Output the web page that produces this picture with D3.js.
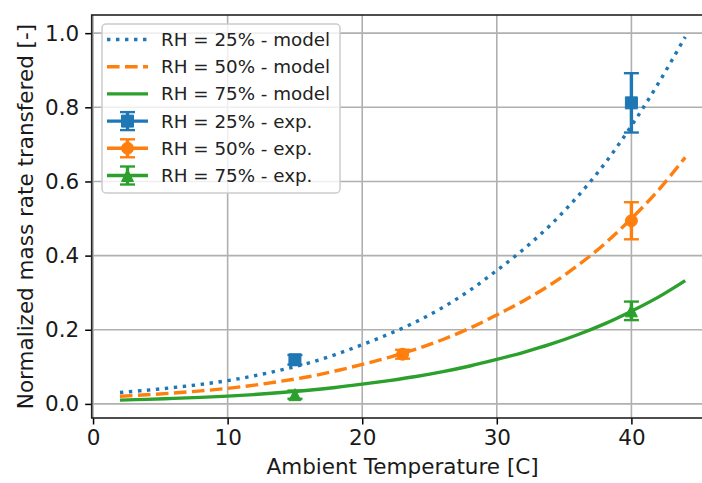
<!DOCTYPE html>
<html>
<head>
<meta charset="utf-8">
<script src="https://cdn.jsdelivr.net/npm/d3@7"></script>
<style>
  body { margin: 0; background: #fff; }
  svg { display: block; font-family: "DejaVu Sans", sans-serif; }
</style>
</head>
<body>
<div id="chart"></div>
<script>
// model curves, every 2 degrees
var temps = [2, 4, 6, 8, 10, 12, 14, 16, 18, 20, 22, 24, 26, 28, 30, 32, 34, 36, 38, 40, 42, 44];
var model25 = [0.0309, 0.0370, 0.0443, 0.0527, 0.0628, 0.0760, 0.0919, 0.1100, 0.1330, 0.1598, 0.1887, 0.2214, 0.2606, 0.3065, 0.3600, 0.4175, 0.4830, 0.5595, 0.6473, 0.7500, 0.8645, 0.9900];
var model50 = [0.0206, 0.0247, 0.0295, 0.0352, 0.0419, 0.0507, 0.0613, 0.0733, 0.0887, 0.1066, 0.1258, 0.1476, 0.1738, 0.2043, 0.2400, 0.2783, 0.3220, 0.3730, 0.4315, 0.5000, 0.5763, 0.6650];
var model75 = [0.0103, 0.0123, 0.0148, 0.0176, 0.0209, 0.0253, 0.0306, 0.0367, 0.0443, 0.0533, 0.0629, 0.0738, 0.0869, 0.1022, 0.1200, 0.1392, 0.1610, 0.1865, 0.2158, 0.2500, 0.2880, 0.3325];

// experiments (value +/- error)
var expT25 = [15, 40], exp25 = [0.119, 0.812], err25 = [0.013, 0.080];
var expT50 = [23, 40], exp50 = [0.134, 0.494], err50 = [0.012, 0.050];
var expT75 = [15, 40], exp75 = [0.025, 0.251], err75 = [0.011, 0.025];

var xTicks = [0, 10, 20, 30, 40];
var yTicks = [0, 0.2, 0.4, 0.6, 0.8, 1.0];

var blue = "#1f77b4", orange = "#ff7f0e", green = "#2ca02c";

var svgWidth = 702, svgHeight = 483;
// plot frame (right edge falls outside the picture, as in the original)
var plotLeft = 91.7, plotRight = 713.5, plotTop = 15, plotBottom = 418;
var lw = 3.4;

var svg = d3.select("#chart").append("svg")
    .attr("width", svgWidth)
    .attr("height", svgHeight);

var x = d3.scaleLinear().domain([-0.1, 46.1]).range([plotLeft, plotRight]);
var y = d3.scaleLinear().domain([-0.038, 1.049]).range([plotBottom, plotTop]);

// grid
svg.append("g").selectAll("line").data(xTicks).enter().append("line")
    .attr("x1", d => x(d)).attr("x2", d => x(d))
    .attr("y1", plotTop).attr("y2", plotBottom)
    .attr("stroke", "#b0b0b0").attr("stroke-width", 1.6);
svg.append("g").selectAll("line").data(yTicks).enter().append("line")
    .attr("x1", plotLeft).attr("x2", plotRight)
    .attr("y1", d => y(d)).attr("y2", d => y(d))
    .attr("stroke", "#b0b0b0").attr("stroke-width", 1.6);

// axes
var xAxis = svg.append("g")
    .attr("transform", `translate(0, ${plotBottom})`)
    .call(d3.axisBottom(x).tickValues(xTicks).tickSize(6.5).tickPadding(5).tickFormat(d3.format("d")));
var yAxis = svg.append("g")
    .attr("transform", `translate(${plotLeft}, 0)`)
    .call(d3.axisLeft(y).tickValues(yTicks).tickSize(6.5).tickPadding(6).tickFormat(d3.format(".1f")));
[xAxis, yAxis].forEach(function(g) {
    g.select(".domain").remove();
    g.selectAll(".tick line").attr("stroke", "#000").attr("stroke-width", 1.5);
    g.selectAll(".tick text").attr("fill", "#1a1a1a").style("font-size", "21.5px")
        .style("font-family", "DejaVu Sans");
});

// frame
svg.append("rect")
    .attr("x", plotLeft).attr("y", plotTop)
    .attr("width", plotRight - plotLeft).attr("height", plotBottom - plotTop)
    .attr("fill", "none").attr("stroke", "#222").attr("stroke-width", 1.6);

// model lines
var models = [
    { vals: model25, color: blue, dash: [lw, lw * 1.65] },
    { vals: model50, color: orange, dash: [lw * 3.7, lw * 1.6] },
    { vals: model75, color: green, dash: null }
];
var line = d3.line().curve(d3.curveCatmullRom);
models.forEach(function(m) {
    svg.append("path")
        .attr("d", line(temps.map((t, i) => [x(t), y(m.vals[i])])))
        .attr("fill", "none")
        .attr("stroke", m.color)
        .attr("stroke-width", lw)
        .attr("stroke-dasharray", m.dash ? m.dash.join(",") : null);
});

// marker paths
function markerPath(shape, s) {
    var h = s / 2;
    if (shape === "s") return `M${-h},${-h}H${h}V${h}H${-h}Z`;
    if (shape === "o") return d3.symbol(d3.symbolCircle, Math.PI * h * h)();
    return `M0,${-h}L${h},${h}L${-h},${h}Z`;
}

function errorMark(g, cx, cy, lo, hi, color, shape) {
    g.append("line").attr("x1", cx).attr("x2", cx).attr("y1", lo).attr("y2", hi)
        .attr("stroke", color).attr("stroke-width", lw);
    [lo, hi].forEach(function(yy) {
        g.append("line").attr("x1", cx - 7.5).attr("x2", cx + 7.5).attr("y1", yy).attr("y2", yy)
            .attr("stroke", color).attr("stroke-width", lw * 0.7);
    });
    g.append("path").attr("d", markerPath(shape, 12))
        .attr("transform", `translate(${cx},${cy})`)
        .attr("fill", color).attr("stroke", color).attr("stroke-width", 1);
}

var exps = [
    { t: expT25, v: exp25, e: err25, color: blue, shape: "s" },
    { t: expT50, v: exp50, e: err50, color: orange, shape: "o" },
    { t: expT75, v: exp75, e: err75, color: green, shape: "^" }
];
exps.forEach(function(ex) {
    var g = svg.append("g");
    ex.t.forEach(function(t, i) {
        errorMark(g, x(t), y(ex.v[i]), y(ex.v[i] - ex.e[i]), y(ex.v[i] + ex.e[i]), ex.color, ex.shape);
    });
});

// axis labels
svg.append("text")
    .attr("x", (plotLeft + plotRight) / 2).attr("y", 474)
    .attr("text-anchor", "middle")
    .style("font-size", "21.5px").attr("fill", "#1a1a1a")
    .text("Ambient Temperature [C]");
svg.append("text")
    .attr("transform", `translate(33, ${(plotTop + plotBottom) / 2}) rotate(-90)`)
    .attr("text-anchor", "middle")
    .style("font-size", "21.5px").attr("fill", "#1a1a1a")
    .text("Normalized mass rate transfered [-]");

// legend
var legendLabels = ["RH = 25% - model", "RH = 50% - model", "RH = 75% - model",
    "RH = 25% - exp.", "RH = 50% - exp.", "RH = 75% - exp."];
var legend = svg.append("g");
legend.append("rect")
    .attr("x", 102).attr("y", 24).attr("width", 238).attr("height", 169)
    .attr("rx", 4)
    .attr("fill", "#fff").attr("fill-opacity", 0.8)
    .attr("stroke", "#cccccc").attr("stroke-width", 1.5);
legendLabels.forEach(function(lab, i) {
    var cy = 39.5 + i * 27.2;
    if (i < 3) {
        var m = models[i];
        legend.append("line").attr("x1", 107).attr("x2", 148).attr("y1", cy).attr("y2", cy)
            .attr("stroke", m.color).attr("stroke-width", lw)
            .attr("stroke-dasharray", m.dash ? m.dash.join(",") : null);
    } else {
        var ex = exps[i - 3];
        legend.append("line").attr("x1", 107).attr("x2", 148).attr("y1", cy).attr("y2", cy)
            .attr("stroke", ex.color).attr("stroke-width", lw);
        errorMark(legend, 127.5, cy, cy + 9, cy - 9, ex.color, ex.shape);
    }
    legend.append("text")
        .attr("x", 161).attr("y", cy + 6.5)
        .style("font-size", "18.3px").attr("fill", "#222")
        .text(lab);
});
</script>
</body>
</html>
